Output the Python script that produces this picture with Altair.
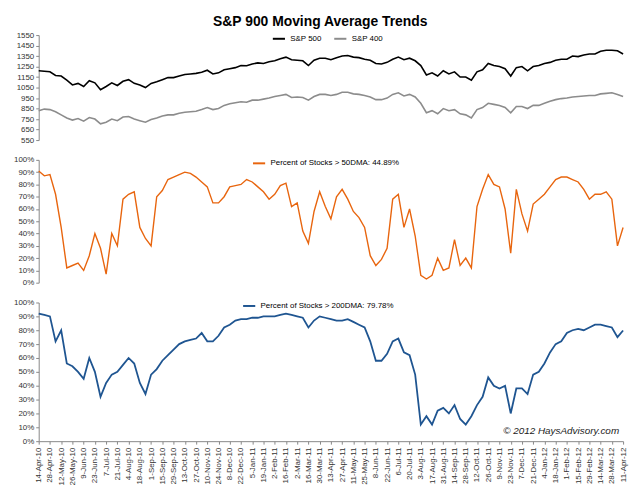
import datetime as dt
import pandas as pd
import altair as alt

# weekly readings, 14-Apr-10 .. 11-Apr-12
sp500 = [1210, 1205, 1200,
         1165, 1160, 1120, 1075,
         1090, 1060, 1115, 1095, 1030,
         1060, 1095, 1070, 1110,
         1125, 1090, 1075, 1050,
         1090, 1105, 1125, 1145, 1145,
         1160, 1175, 1180, 1185,
         1195, 1215, 1180, 1190,
         1220, 1230, 1240, 1260, 1258,
         1275, 1285, 1280, 1295,
         1305, 1325, 1340, 1315,
         1310, 1305, 1260, 1310, 1330,
         1330, 1315, 1335, 1350,
         1355, 1340, 1335, 1320,
         1310, 1280, 1275, 1290, 1320,
         1340, 1315, 1330, 1305,
         1260, 1170, 1190, 1160, 1210,
         1180, 1200, 1150, 1150,
         1120, 1200, 1220, 1280,
         1260, 1250, 1230, 1160, 1240,
         1250, 1210, 1250, 1260,
         1280, 1290, 1310, 1320,
         1320, 1350, 1345, 1360, 1370,
         1370, 1395, 1405, 1405,
         1400, 1370]
sp400 = [830, 845, 840,
         820, 790, 760, 740,
         755, 730, 765, 750, 705,
         720, 750, 735, 770,
         775, 750, 735, 720,
         745, 760, 780, 790, 790,
         805, 815, 820, 825,
         840, 860, 840, 850,
         880, 895, 905, 915, 910,
         930, 930, 940, 950,
         965, 975, 985, 955,
         960, 955, 930, 965, 985,
         985, 975, 985, 1005,
         1005, 990, 985, 975,
         960, 935, 935, 950, 985,
         1000, 970, 985, 960,
         900, 810, 830, 800, 850,
         830, 840, 800, 790,
         760, 840, 860, 900,
         890, 880, 860, 810, 870,
         870, 850, 880, 880,
         900, 920, 935, 945,
         950, 960, 965, 970, 975,
         975, 990, 995, 1000,
         985, 965]
pct50 = [91, 87, 88, 72, 45, 12, 14, 16, 10, 22, 40, 28, 7, 40, 30, 68, 72, 74, 45, 36,
         30, 70, 75, 84, 86, 88, 90, 89, 86, 82, 78, 65, 65, 70, 78, 79, 80, 84, 82, 78,
         74, 68, 72, 79, 81, 62, 65, 42, 32, 58, 74, 62, 52, 70, 76, 68, 58, 53, 45, 22,
         14, 19, 28, 68, 72, 45, 60, 38, 6, 3, 6, 20, 10, 12, 35, 14, 20, 12, 62, 76,
         88, 80, 78, 60, 24, 76, 56, 42, 64, 68, 72, 78, 84, 86, 86, 84, 82, 76, 68, 72,
         72, 74, 68, 30, 44.89]
pct200 = [92, 91, 90, 72, 80, 56, 54, 50, 45, 60, 50, 32, 42, 48, 50, 55, 60, 56, 42, 34,
          48, 52, 58, 62, 66, 70, 72, 73, 74, 78, 72, 72, 76, 82, 84, 87, 88, 88, 89, 89,
          90, 90, 90, 91, 92, 91, 90, 89, 82, 87, 90, 89, 88, 87, 87, 88, 86, 84, 82, 72,
          58, 58, 63, 72, 74, 64, 62, 48, 12, 18, 12, 22, 24, 20, 26, 16, 12, 18, 26, 32,
          46, 40, 38, 40, 20, 38, 38, 34, 48, 50, 56, 64, 70, 72, 78, 80, 81, 80, 82, 84,
          84, 83, 82, 75, 79.78]

start = dt.date(2010, 4, 14)
dates = [(start + dt.timedelta(days=7 * i)).isoformat() for i in range(len(sp500))]
ticks = [start + dt.timedelta(days=14 * i) for i in range(53)]
tick_vals = [alt.DateTime(year=d.year, month=d.month, date=d.day, utc=True) for d in ticks]

idx = pd.DataFrame({"date": dates * 2, "val": sp500 + sp400,
                    "s": ["S&P 500"] * len(sp500) + ["S&P 400"] * len(sp400)})
df50 = pd.DataFrame({"date": dates, "val": pct50, "s": "Percent of Stocks > 50DMA: 44.89%"})
df200 = pd.DataFrame({"date": dates, "val": pct200, "s": "Percent of Stocks > 200DMA: 79.78%"})

W = 590
xs = alt.Scale(type="utc", domain=[dates[0], dates[-1]], nice=False)


def leg(x):
    return alt.Legend(orient="none", legendX=x, legendY=-4, direction="horizontal", title=None,
                      symbolType="stroke", symbolStrokeWidth=2, labelFontSize=8, symbolSize=150,
                      columnPadding=8, padding=0)


tk = dict(grid=False, labelFontSize=8, tickSize=3, domainColor="#888", tickColor="#888", labelColor="#333")

top = alt.Chart(idx).mark_line(strokeWidth=1.6).encode(
    x=alt.X("date:T", scale=xs, axis=None),
    y=alt.Y("val:Q", title=None, scale=alt.Scale(domain=[550, 1550]),
            axis=alt.Axis(format="d", values=list(range(550, 1551, 100)), **tk)),
    color=alt.Color("s:N", sort=["S&P 500", "S&P 400"], legend=leg(W / 2 - 60),
                    scale=alt.Scale(domain=["S&P 500", "S&P 400"], range=["#000000", "#8c8c8c"])),
).properties(width=W, height=106)

pfmt = alt.Axis(format=".0%", values=[i / 10 for i in range(11)], **tk)

mid = alt.Chart(df50).transform_calculate(v="datum.val/100").mark_line(strokeWidth=1.4).encode(
    x=alt.X("date:T", scale=xs, axis=None),
    y=alt.Y("v:Q", title=None, scale=alt.Scale(domain=[0, 1]), axis=pfmt),
    color=alt.Color("s:N", legend=leg(W / 2 - 80), scale=alt.Scale(range=["#e8650e"])),
).properties(width=W, height=124)

bot_line = alt.Chart(df200).transform_calculate(v="datum.val/100").mark_line(strokeWidth=1.8).encode(
    x=alt.X("date:T", scale=xs, title=None,
            axis=alt.Axis(values=tick_vals, labelExpr="utcFormat(datum.value, '%-d-%b-%y')",
                          labelAngle=-90, labelPadding=3, **tk)),
    y=alt.Y("v:Q", title=None, scale=alt.Scale(domain=[0, 1]), axis=pfmt),
    color=alt.Color("s:N", legend=leg(W / 2 - 90), scale=alt.Scale(range=["#1f5591"])),
)
credit = alt.Chart(pd.DataFrame({"t": ["© 2012 HaysAdvisory.com"]})).mark_text(
    align="right", fontStyle="italic", fontSize=10, color="#222"
).encode(text="t:N", x=alt.value(W - 4), y=alt.value(130))
bot = alt.layer(bot_line, credit).properties(width=W, height=140)

chart = alt.vconcat(top, mid, bot, spacing=12).resolve_scale(color="independent").properties(
    title=alt.Title("S&P 900 Moving Average Trends", fontSize=14, font="Liberation Sans",
                    anchor="middle", offset=2)
).configure(font="Liberation Sans").configure_view(stroke=None)

chart.save("out.html", embed_options={"renderer": "svg", "actions": False})
